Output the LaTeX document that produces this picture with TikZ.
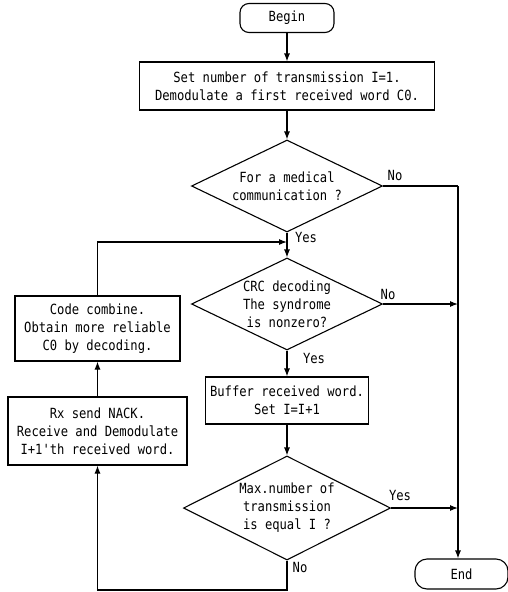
\documentclass[tikz,border=0pt]{standalone}
\usepackage{fontspec}
\setmonofont{DejaVu Sans Mono}[FakeStretch=0.87]
\usetikzlibrary{shapes.geometric,arrows.meta}
\begin{document}
\begin{tikzpicture}[x=1pt,y=-1pt,
  font=\ttfamily\fontsize{14}{18}\selectfont,
  line width=1.1pt,
  >={Latex[length=8pt,width=6pt]},
  every node/.style={align=center},
  box/.style={draw,rectangle,inner sep=0pt},
  term/.style={draw,rectangle,rounded corners=9pt,inner sep=0pt},
  dec/.style={draw,diamond,aspect=2,inner sep=0pt},
  lbl/.style={inner sep=0pt}]
\useasboundingbox (0,0) rectangle (508,592);
\node[term,minimum width=94pt,minimum height=29pt] (begin) at (287,18) {Begin};
\node[box,minimum width=295pt,minimum height=48pt] (set) at (287,86) {Set number of transmission I=1.\\Demodulate a first received word C0.};
\node[dec,minimum width=191pt,minimum height=92pt] (d1) at (287,186) {For a medical\\communication ?};
\node[dec,minimum width=191pt,minimum height=92pt] (d2) at (287,304) {CRC decoding\\The syndrome\\is nonzero?};
\node[box,minimum width=163pt,minimum height=47pt] (buf) at (287,400.5) {Buffer received word.\\Set I=I+1};
\node[dec,minimum width=207pt,minimum height=104pt] (d3) at (287,508) {Max.number of\\transmission\\is equal I ?};
\node[box,minimum width=165pt,minimum height=65pt] (code) at (97.5,328.5) {Code combine.\\Obtain more reliable\\C0 by decoding.};
\node[box,minimum width=179pt,minimum height=68pt] (rx) at (97.5,431) {Rx send NACK.\\Receive and Demodulate\\I+1'th received word.};
\node[term,minimum width=93pt,minimum height=30pt,rounded corners=12pt] (end) at (461.5,574) {End};
\coordinate (rt1) at (458,186);
\coordinate (rt2) at (458,304);
\coordinate (rt3) at (458,508);
\coordinate (join) at (287,242);
\coordinate (bot) at (287,590);
\draw[->] (begin) -- (set);
\draw[->] (set) -- (d1);
\draw (d1.east) -- (rt1);
\draw[->] (rt1) -- (rt1 |- end.north);
\draw[->] (d1.south) -- (d2.north);
\draw[->] (code.north) |- (join);
\draw[->] (d2.east) -- (rt2);
\draw[->] (d2.south) -- (buf.north);
\draw[->] (buf.south) -- (d3.north);
\draw[->] (d3.east) -- (rt3);
\draw[->] (d3.south) -- (bot) -| (rx.south);
\draw[->] (rx.north) -- (code.south);
\node[lbl] (l1) at (395,175) {No};
\node[lbl] (l2) at (306,237) {Yes};
\node[lbl] (l3) at (388,294) {No};
\node[lbl] (l4) at (314,358) {Yes};
\node[lbl] (l5) at (400,495) {Yes};
\node[lbl] (l6) at (300,567) {No};
\end{tikzpicture}
\end{document}
